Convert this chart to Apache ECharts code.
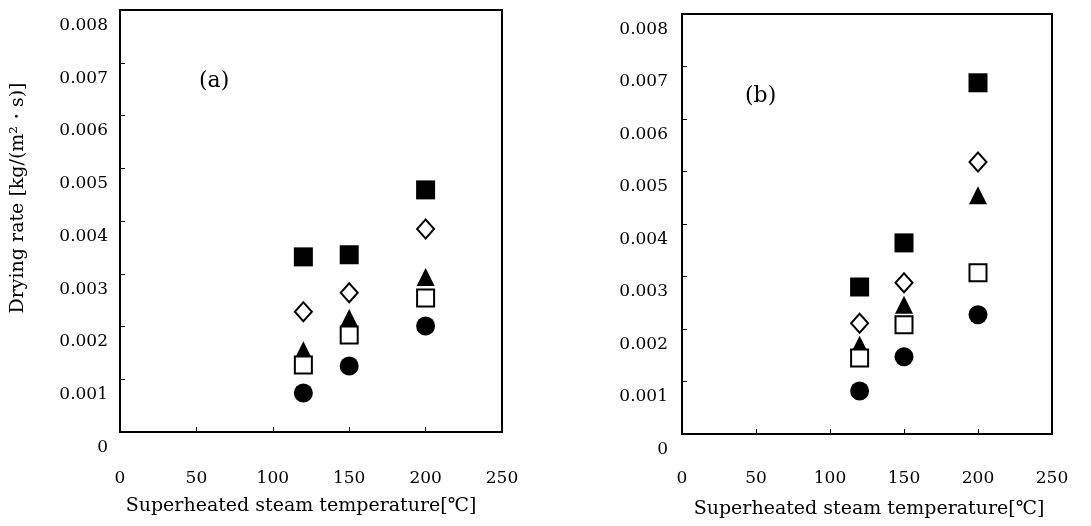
<!DOCTYPE html>
<html>
<head>
<meta charset="utf-8">
<script src="https://cdn.jsdelivr.net/npm/echarts@6/dist/echarts.min.js"></script>
<style>
html, body { margin: 0; padding: 0; background: #fff; }
#chart { width: 1091px; height: 526px; }
</style>
</head>
<body>
<div id="chart"></div>
<script>
// superheated steam temperature [C]
const temps = [120, 150, 200];

// panel (a) drying rates
const aFilledSquare = [0.00332, 0.00336, 0.00459];
const aDiamond = [0.00228, 0.00264, 0.00385];
const aTriangle = [0.00155, 0.00216, 0.00294];
const aOpenSquare = [0.00127, 0.00184, 0.00254];
const aCircle = [0.00074, 0.00125, 0.00201];

// panel (b) drying rates
const bFilledSquare = [0.00280, 0.00364, 0.00669];
const bDiamond = [0.00211, 0.00288, 0.00518];
const bTriangle = [0.00170, 0.00246, 0.00455];
const bOpenSquare = [0.00145, 0.00208, 0.00307];
const bCircle = [0.00082, 0.00147, 0.00227];

const panelLabels = ["(a)", "(b)"];
const xName = "Superheated steam temperature[℃]";
const yName = "Drying rate [kg/(m²・s)]";

const font = '"DejaVu Serif", "Liberation Serif", serif';
const chart = echarts.init(document.getElementById("chart"));

const pair = (ys) => ys.map((y, i) => [temps[i], y]);

// symbol styles, drawn in this order (open square sits over the triangle)
const marks = [
  { key: "filledSquare", symbol: "rect", size: 19, open: false },
  { key: "diamond", symbol: "diamond", size: [17, 19], open: true },
  { key: "triangle", symbol: "triangle", size: [18, 18], open: false },
  { key: "openSquare", symbol: "rect", size: 17, open: true },
  { key: "circle", symbol: "circle", size: 19, open: false },
];
const panelData = [
  { filledSquare: aFilledSquare, diamond: aDiamond, triangle: aTriangle, openSquare: aOpenSquare, circle: aCircle },
  { filledSquare: bFilledSquare, diamond: bDiamond, triangle: bTriangle, openSquare: bOpenSquare, circle: bCircle },
];

const makeSeries = () => {
  let out = [];
  panelData.forEach((d, p) => {
    marks.forEach((m) => {
      out.push({
        name: m.key + p,
        type: "scatter",
        xAxisIndex: p,
        yAxisIndex: p,
        symbol: m.symbol,
        symbolSize: m.size,
        itemStyle: m.open
          ? { color: "#fff", borderColor: "#000", borderWidth: 2, opacity: 1 }
          : { color: "#000", opacity: 1 },
        data: pair(d[m.key]),
      });
    });
  });
  return out;
};

const xAxisFor = (i, margin, gap, namePad) => ({
  gridIndex: i,
  type: "value",
  min: 0,
  max: 250,
  interval: 50,
  name: xName,
  nameLocation: "middle",
  nameGap: gap,
  nameTextStyle: { fontFamily: font, fontSize: 19, color: "#000", padding: namePad },
  axisLine: { show: false },
  axisTick: { show: true, inside: true, length: 5, lineStyle: { color: "#000", width: 1 } },
  axisLabel: { fontFamily: font, fontSize: 17, color: "#000", margin: margin },
  splitLine: { show: false },
});

const yAxisFor = (i, margin, showName) => ({
  gridIndex: i,
  type: "value",
  min: 0,
  max: 0.008,
  interval: 0.001,
  name: showName ? yName : "",
  nameLocation: "middle",
  nameGap: 92,
  nameTextStyle: { fontFamily: font, fontSize: 19, color: "#000", padding: [0, 0, 0, 46] },
  axisLine: { show: false },
  axisTick: { show: true, inside: true, length: 5, lineStyle: { color: "#000", width: 1 } },
  axisLabel: {
    fontFamily: font,
    fontSize: 17,
    color: "#000",
    margin: margin,
    verticalAlign: "top",
    padding: [7, 0, 0, 0],
    formatter: (v) => (v === 0 ? "0" : v.toFixed(3)),
  },
  splitLine: { show: false },
});

const option = {
  animation: false,
  backgroundColor: "#fff",
  grid: [
    { left: 120, top: 10, width: 382, height: 422, show: true, borderColor: "#000", borderWidth: 2 },
    { left: 682, top: 14, width: 370, height: 420, show: true, borderColor: "#000", borderWidth: 2 },
  ],
  xAxis: [xAxisFor(0, 38, 65, [0, 20, 0, 0]), xAxisFor(1, 36, 66, [0, 0, 0, 4])],
  yAxis: [yAxisFor(0, 12, true), yAxisFor(1, 14, false)],
  graphic: [
    { type: "text", left: 199, top: 70, style: { text: panelLabels[0], font: "22px " + font, fill: "#000" } },
    { type: "text", left: 745, top: 85, style: { text: panelLabels[1], font: "22px " + font, fill: "#000" } },
  ],
  series: makeSeries(),
};
option && chart.setOption(option);
</script>
</body>
</html>
